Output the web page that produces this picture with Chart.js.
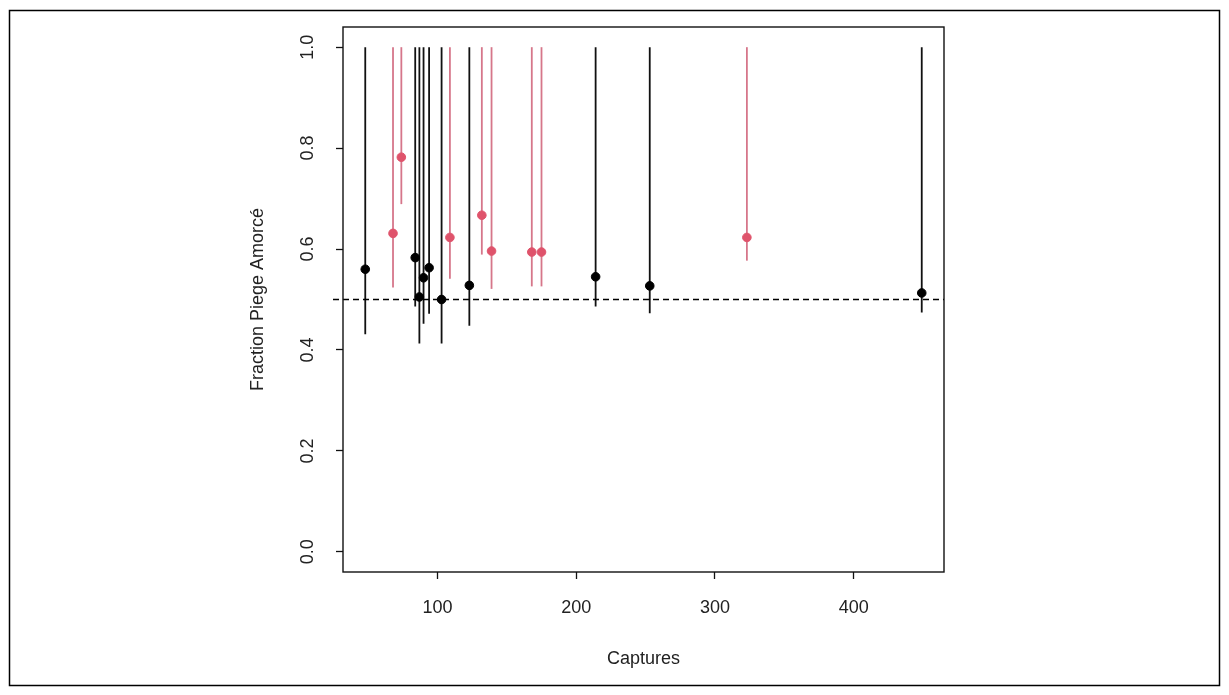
<!DOCTYPE html>
<html>
<head>
<meta charset="utf-8">
<script src="https://cdn.jsdelivr.net/npm/chart.js@4/dist/chart.umd.min.js"></script>
<style>
  html, body { margin: 0; padding: 0; background: #ffffff; }
  canvas { display: block; }
</style>
</head>
<body>
<canvas id="c" width="1229" height="695"></canvas>
<script>
// ---- data ----
const blackCaptures = [48, 84, 87, 90, 94, 103, 123, 214, 253, 449];
const blackFraction = [0.560, 0.583, 0.505, 0.543, 0.563, 0.500, 0.528, 0.545, 0.527, 0.513];
const blackLower    = [0.431, 0.486, 0.413, 0.452, 0.472, 0.413, 0.448, 0.486, 0.473, 0.474];
const blackUpper    = [1, 1, 1, 1, 1, 1, 1, 1, 1, 1];

const pinkCaptures = [68, 74, 109, 132, 139, 168, 175, 323];
const pinkFraction = [0.631, 0.782, 0.623, 0.667, 0.596, 0.594, 0.594, 0.623];
const pinkLower    = [0.524, 0.689, 0.541, 0.589, 0.521, 0.526, 0.526, 0.577];
const pinkUpper    = [1, 1, 1, 1, 1, 1, 1, 1];

const referenceLevel = 0.5;

const xTickValues = [100, 200, 300, 400];
const yTickValues = [0, 0.2, 0.4, 0.6, 0.8, 1.0];
const yTickLabels = ['0.0', '0.2', '0.4', '0.6', '0.8', '1.0'];

const xTitle = 'Captures';
const yTitle = 'Fraction Piege Amorcé';

// ---- styles ----
const BLACK = '#000000';
const PINK = '#DF536B';
const PINK_LINE = 'rgb(214,118,138)';
const FONT = { family: '"Liberation Sans", Arial, sans-serif', size: 18 };
const TEXT = '#222222';

// R-style axis range (4% expansion of the data range)
const allX = blackCaptures.concat(pinkCaptures);
const xMinD = Math.min(...allX), xMaxD = Math.max(...allX);
const xPad = (xMaxD - xMinD) * 0.04;
const yMinD = 0, yMaxD = 1, yPad = (yMaxD - yMinD) * 0.04;

const seriesBars = [
  { x: blackCaptures, lo: blackLower, hi: blackUpper, color: '#111111', width: 1.8 },
  { x: pinkCaptures,  lo: pinkLower,  hi: pinkUpper,  color: PINK_LINE, width: 1.8 }
];

const decorPlugin = {
  id: 'decor',
  beforeDatasetsDraw(chart) {
    const { ctx, chartArea, scales } = chart;
    const xs = scales.x, ys = scales.y;
    ctx.save();
    // error bars
    seriesBars.forEach(s => {
      ctx.strokeStyle = s.color;
      ctx.lineWidth = s.width;
      s.x.forEach((xv, i) => {
        const px = xs.getPixelForValue(xv);
        ctx.beginPath();
        ctx.moveTo(px, ys.getPixelForValue(s.lo[i]));
        ctx.lineTo(px, ys.getPixelForValue(s.hi[i]));
        ctx.stroke();
      });
    });
    // dashed reference line
    const py = ys.getPixelForValue(referenceLevel);
    ctx.strokeStyle = BLACK;
    ctx.lineWidth = 1.3;
    ctx.setLineDash([6, 4]);
    ctx.beginPath();
    ctx.moveTo(chartArea.left - 10, py);
    ctx.lineTo(chartArea.right, py);
    ctx.stroke();
    ctx.restore();
  },
  afterDraw(chart) {
    const { ctx, chartArea } = chart;
    ctx.save();
    ctx.strokeStyle = '#111';
    ctx.lineWidth = 1.4;
    ctx.strokeRect(chartArea.left, chartArea.top, chartArea.right - chartArea.left, chartArea.bottom - chartArea.top);
    // outer frame of the picture
    ctx.strokeStyle = '#000';
    ctx.lineWidth = 1.5;
    ctx.strokeRect(9.5, 10.5, 1210, 675);
    ctx.restore();
  }
};

new Chart(document.getElementById('c'), {
  type: 'scatter',
  data: {
    datasets: [
      {
        label: 'black',
        data: blackCaptures.map((x, i) => ({ x: x, y: blackFraction[i] })),
        backgroundColor: BLACK, borderColor: BLACK,
        pointRadius: 4.3, borderWidth: 1, pointHoverRadius: 4.3
      },
      {
        label: 'pink',
        data: pinkCaptures.map((x, i) => ({ x: x, y: pinkFraction[i] })),
        backgroundColor: PINK, borderColor: PINK,
        pointRadius: 4.3, borderWidth: 1, pointHoverRadius: 4.3
      }
    ]
  },
  options: {
    responsive: false,
    animation: false,
    devicePixelRatio: 1,
    layout: { padding: { left: 247.2, right: 285, top: 27, bottom: 25.2 } },
    plugins: { legend: { display: false }, tooltip: { enabled: false } },
    scales: {
      x: {
        type: 'linear',
        min: xMinD - xPad, max: xMaxD + xPad,
        afterBuildTicks: (scale) => { scale.ticks = xTickValues.map(v => ({ value: v })); },
        afterFit: (scale) => { scale.height = 97.8; },
        grid: { drawOnChartArea: false, drawTicks: true, tickLength: 7, tickColor: '#111', tickWidth: 1.3 },
        border: { display: false },
        ticks: { color: TEXT, font: FONT, padding: 18, maxRotation: 0, autoSkip: false },
        title: { display: true, text: xTitle, color: TEXT, font: FONT, padding: { top: 0, bottom: 0 } }
      },
      y: {
        type: 'linear',
        min: yMinD - yPad, max: yMaxD + yPad,
        afterBuildTicks: (scale) => { scale.ticks = yTickValues.map(v => ({ value: v })); },
        afterFit: (scale) => { scale.width = 343 - 247.2; },
        grid: { drawOnChartArea: false, drawTicks: true, tickLength: 7, tickColor: '#111', tickWidth: 1.3 },
        border: { display: false },
        ticks: {
          color: TEXT, font: FONT, padding: 15, minRotation: 90, maxRotation: 90,
          crossAlign: 'center', autoSkip: false,
          callback: (v) => { const k = yTickValues.indexOf(v); return k >= 0 ? yTickLabels[k] : ''; }
        },
        title: { display: true, text: yTitle, color: TEXT, font: FONT, padding: { top: 0, bottom: 0 } }
      }
    }
  },
  plugins: [decorPlugin]
});
</script>
</body>
</html>
